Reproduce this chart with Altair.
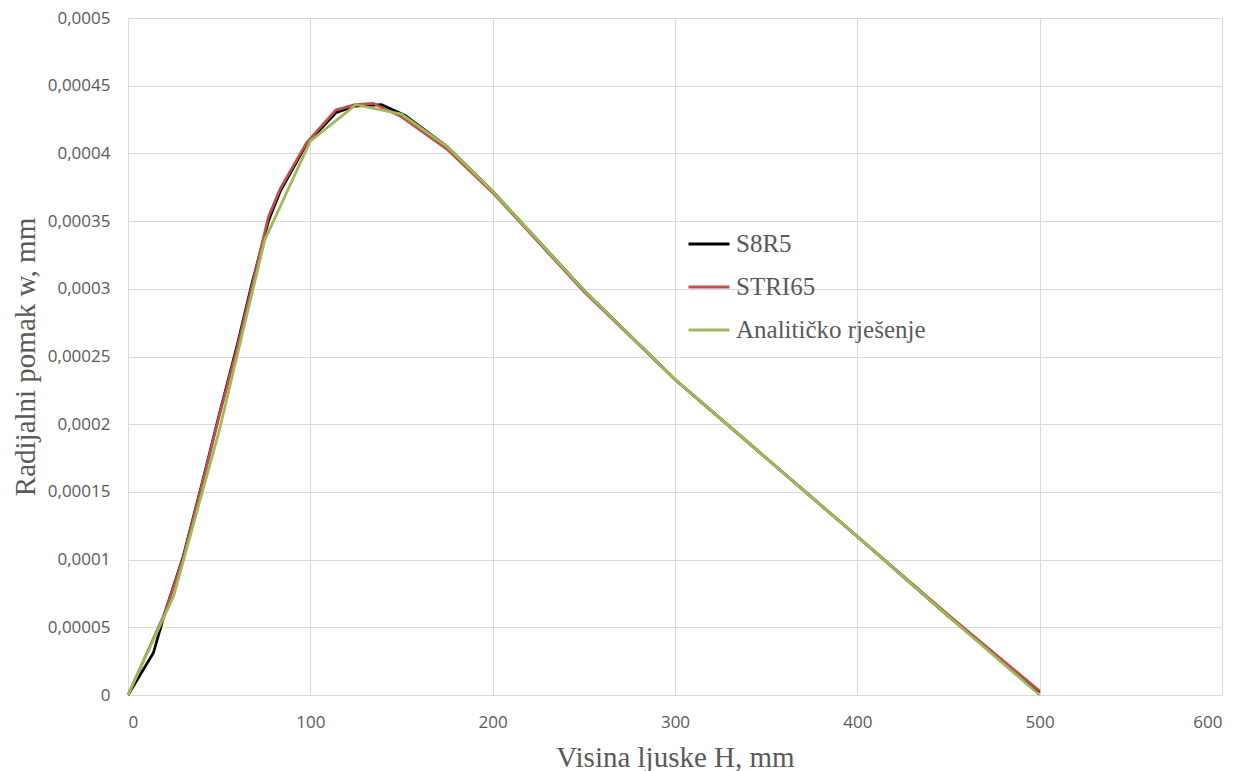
import altair as alt
import pandas as pd

# ---- data ----
series_names = ["S8R5", "STRI65", "Analitičko rješenje"]
series_colors = ["#000000", "#C0504D", "#9BBB59"]

x_s8r5 = [0, 13.9, 20.5, 30, 40, 50, 60, 68, 77, 83.5, 98, 114, 124.5, 139, 152,
          175, 200, 250, 300, 350, 400, 450, 500]
w_s8r5 = [0, 0.000031, 0.000062, 0.000101, 0.000153, 0.000207, 0.000259, 0.000304,
          0.000350, 0.000372, 0.000407, 0.000430, 0.000435, 0.000436, 0.000428,
          0.000405, 0.000372, 0.000299, 0.000233, 0.000175, 0.000117, 0.000058, 0.000002]

x_stri65 = [0, 20, 30, 40, 50, 60, 68, 77, 83.5, 98, 114, 124.5, 134.5, 150,
            175, 200, 250, 300, 350, 400, 450, 500]
w_stri65 = [0, 0.000060, 0.000100, 0.000152, 0.000206, 0.000257, 0.000302, 0.000353,
            0.000374, 0.000408, 0.000432, 0.000436, 0.000437, 0.000427,
            0.000403, 0.000371, 0.000298, 0.000233, 0.000175, 0.000117, 0.000059, 0.000003]

x_anal = [0, 25, 50, 75, 100, 125, 150, 175, 200, 250, 300, 350, 400, 450, 500]
w_anal = [0, 0.000073, 0.000195, 0.000336, 0.000409, 0.000436, 0.000429, 0.000405,
          0.000372, 0.000299, 0.000233, 0.000175, 0.000117, 0.000058, 0.0]

x_ticks = [0, 100, 200, 300, 400, 500, 600]
y_ticks = [0, 0.00005, 0.0001, 0.00015, 0.0002, 0.00025, 0.0003, 0.00035,
           0.0004, 0.00045, 0.0005]

frames = []
for name, xs, ws in zip(series_names, [x_s8r5, x_stri65, x_anal],
                        [w_s8r5, w_stri65, w_anal]):
    frames.append(pd.DataFrame({"H": xs, "w": ws, "series": name}))
df = pd.concat(frames, ignore_index=True)

label_font = "Open Sans"
serif = "Liberation Serif"
gray = "#595959"

color = alt.Color(
    "series:N",
    scale=alt.Scale(domain=series_names, range=series_colors),
    sort=series_names,
    legend=alt.Legend(
        title=None,
        orient="none",
        legendX=559,
        legendY=204,
        symbolType="stroke",
        symbolSize=1681,
        symbolStrokeWidth=3,
        labelFont=serif,
        labelFontSize=25,
        labelColor=gray,
        labelOffset=5,
        labelLimit=0,
        rowPadding=8,
        padding=0,
    ),
)

x_enc = alt.X(
    "H:Q",
    scale=alt.Scale(domain=[0, 600], nice=False),
    axis=alt.Axis(
        values=x_ticks,
        title="Visina ljuske H, mm",
        titleFont=serif,
        titleFontSize=29,
        titleFontWeight="normal",
        titleColor=gray,
        titlePadding=13,
        labelFont=label_font,
        labelFontSize=17,
        labelColor=gray,
        labelPadding=19,
        ticks=False,
        domain=False,
        grid=True,
        gridColor="#D9D9D9",
        gridWidth=1,
    ),
)

y_enc = alt.Y(
    "w:Q",
    scale=alt.Scale(domain=[0, 0.0005], nice=False),
    axis=alt.Axis(
        values=y_ticks,
        labelExpr="replace(format(datum.value, '.2~g'), '.', ',')",
        title="Radijalni pomak w, mm",
        titleFont=serif,
        titleFontSize=29,
        titleFontWeight="normal",
        titleColor=gray,
        titlePadding=7,
        labelFont=label_font,
        labelFontSize=17,
        labelColor=gray,
        labelPadding=18,
        ticks=False,
        domain=False,
        grid=True,
        gridColor="#D9D9D9",
        gridWidth=1,
    ),
)

layers = []
for name in series_names:
    layers.append(
        alt.Chart(df)
        .transform_filter(alt.datum.series == name)
        .mark_line(strokeWidth=2.75)
        .encode(x=x_enc, y=y_enc, color=color, order="H:Q")
    )

chart = (
    alt.layer(*layers)
    .properties(
        width=1094,
        height=677,
        autosize=alt.AutoSizeParams(type="none"),
        padding={"left": 128, "top": 18, "right": 19, "bottom": 76},
        background="white",
    )
    .configure_view(stroke=None)
)

chart.save("out.html", embed_options={"renderer": "svg", "actions": False})
